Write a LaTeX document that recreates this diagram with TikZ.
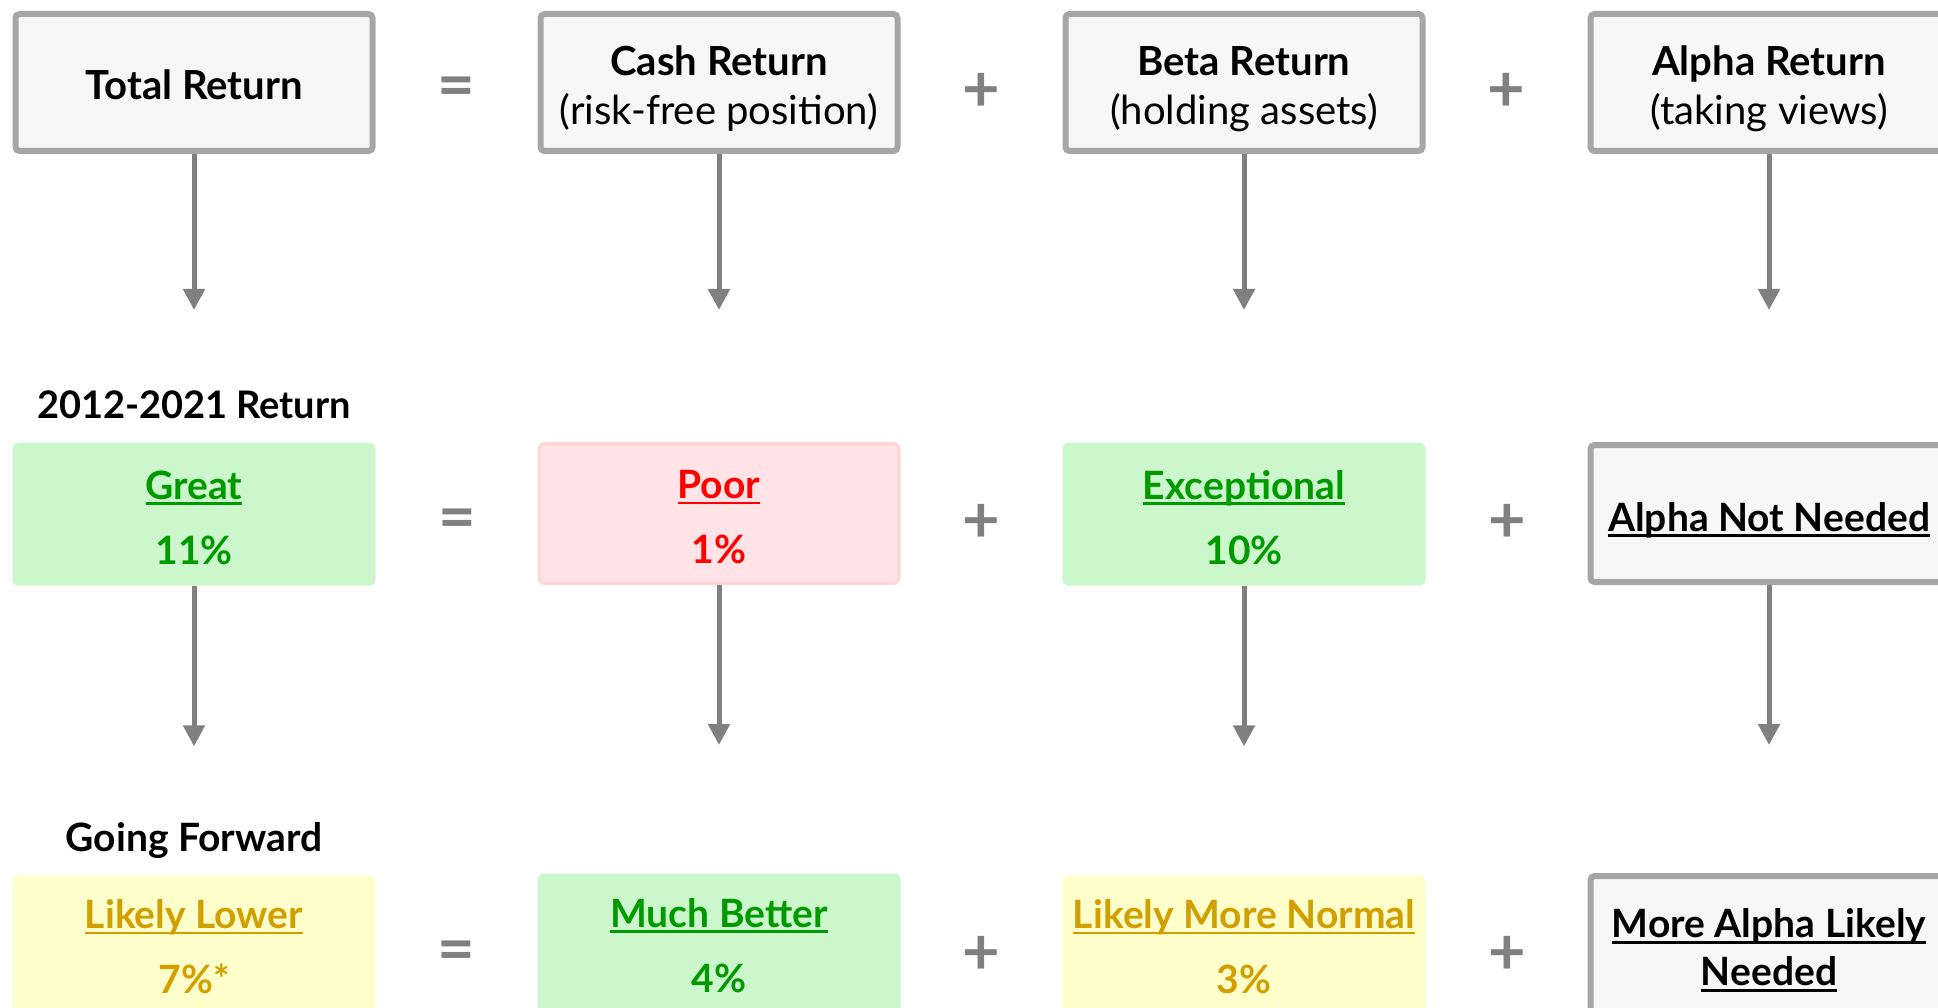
\documentclass[tikz,border=0pt]{standalone}
\usepackage{fontspec}
\setmainfont{Lato}
\usepackage{xcolor}
\usetikzlibrary{positioning,arrows.meta}

\definecolor{boxgrey}{HTML}{F7F7F7}
\definecolor{edgegrey}{HTML}{A6A6A6}
\definecolor{arrowgrey}{HTML}{808080}
\definecolor{goodfill}{HTML}{CCF7CC}
\definecolor{goodtext}{HTML}{009900}
\definecolor{badfill}{HTML}{FFE3E6}
\definecolor{badedge}{HTML}{FFD4D8}
\definecolor{badtext}{HTML}{FF0000}
\definecolor{midfill}{HTML}{FFFFCC}
\definecolor{midtext}{HTML}{D1A000}

\newcommand{\boxfont}{\fontsize{11.1}{13.9}\selectfont}
\newcommand{\topfont}{\fontsize{11.4}{13.9}\selectfont}
% underline that follows the text colour, a bit heavier than \underline
\newcommand{\ulined}[1]{\setbox0=\hbox{#1}\leavevmode\rlap{\rule[-0.15em]{\wd0}{0.07em}}\box0}
% invisible strut on the first line, pushes the text a little lower in its box
\newcommand{\padtop}[1]{\rule{0pt}{#1}}

\begin{document}
\begin{tikzpicture}[
  box/.style={rectangle, align=center, font=\boxfont, inner sep=2pt},
  plain/.style={box, draw=edgegrey, fill=boxgrey, line width=0.6mm, rounded corners=0.4mm,
    minimum width=3.57cm, minimum height=1.37cm},
  good/.style={box, fill=goodfill, text=goodtext, rounded corners=0.6mm,
    minimum width=3.63cm, minimum height=1.43cm, font=\boxfont\bfseries},
  bad/.style={good, fill=badfill, draw=badedge, line width=0.3mm, text=badtext,
    minimum width=3.60cm, minimum height=1.40cm},
  mid/.style={good, fill=midfill, text=midtext},
  op/.style={font=\fontsize{18.5}{18.5}\selectfont\bfseries, text=arrowgrey, inner sep=0pt, yshift=-1mm},
  head/.style={font=\boxfont\bfseries, inner sep=0pt, text height=0.72em, text depth=0pt},
  arr/.style={draw=arrowgrey, line width=0.5mm, -{Triangle[length=2.1mm, width=2.1mm]}}
]
\useasboundingbox (0,0) rectangle (19.38,-10.08);
\clip (0,0) rectangle (19.38,-10.08);

% top row: the return identity
\node[plain, font=\topfont] (total) at (1.94,-0.825) {\padtop{9.8pt}\textbf{Total Return}};
\node[plain, font=\topfont, right=1.62cm of total] (cash)
  {\padtop{12pt}\textbf{Cash Return}\\(risk-free position)};
\node[plain, font=\topfont, right=1.62cm of cash] (beta)
  {\padtop{12pt}\textbf{Beta Return}\\(holding assets)};
\node[plain, font=\topfont, right=1.62cm of beta] (alpha)
  {\padtop{12pt}\textbf{Alpha Return}\\(taking views)};

% last decade
\node[good, below=2.88cm of total] (great) {\padtop{10pt}\ulined{Great}\\[4.6pt]11\%};
\node[bad, below=2.88cm of cash] (poor) {\padtop{10pt}\ulined{Poor}\\[4.6pt]1\%};
\node[good, below=2.88cm of beta] (except) {\padtop{10pt}\ulined{Exceptional}\\[4.6pt]10\%};
\node[plain, below=2.88cm of alpha, font=\boxfont\bfseries] (noalpha)
  {\padtop{12pt}\ulined{Alpha Not Needed}};
\node[head, font=\fontsize{10.8}{13}\selectfont\bfseries, above=2.25mm of great] (past) {2012-2021 Return};

% outlook
\node[mid, below=2.88cm of great] (lower) {\ulined{Likely Lower}\\[4.6pt]7\%*};
\node[good, below=2.88cm of poor] (better) {\ulined{Much Better}\\[4.6pt]4\%};
\node[mid, below=2.88cm of except] (normal) {\ulined{Likely More Normal}\\[4.6pt]3\%};
\node[plain, below=2.88cm of noalpha, font=\fontsize{11.1}{13.7}\selectfont\bfseries] (morealpha)
  {\padtop{11.5pt}\ulined{More Alpha Likely}\\\ulined{Needed}};
\node[head, above=2.25mm of lower] (ahead) {Going Forward};

% = and + between the boxes
\path (total) -- node[op] (eqa) {=} (cash);
\path (cash) -- node[op] (pla) {+} (beta);
\path (beta) -- node[op] (plb) {+} (alpha);
\path (great) -- node[op] (eqb) {=} (poor);
\path (poor) -- node[op] (plc) {+} (except);
\path (except) -- node[op] (pld) {+} (noalpha);
\path (lower) -- node[op] (eqc) {=} (better);
\path (better) -- node[op] (ple) {+} (normal);
\path (normal) -- node[op] (plf) {+} (morealpha);

% arrows down to the next row
\coordinate[below=1.56cm of total] (ta);
\coordinate[below=1.56cm of cash] (ca);
\coordinate[below=1.56cm of beta] (ba);
\coordinate[below=1.56cm of alpha] (aa);
\coordinate[below=1.60cm of great] (tb);
\coordinate[below=1.60cm of poor] (cb);
\coordinate[below=1.60cm of except] (bb);
\coordinate[below=1.60cm of noalpha] (ab);
\draw[arr] (total) -- (ta);
\draw[arr] (cash) -- (ca);
\draw[arr] (beta) -- (ba);
\draw[arr] (alpha) -- (aa);
\draw[arr] (great) -- (tb);
\draw[arr] (poor) -- (cb);
\draw[arr] (except) -- (bb);
\draw[arr] (noalpha) -- (ab);

\end{tikzpicture}
\end{document}
